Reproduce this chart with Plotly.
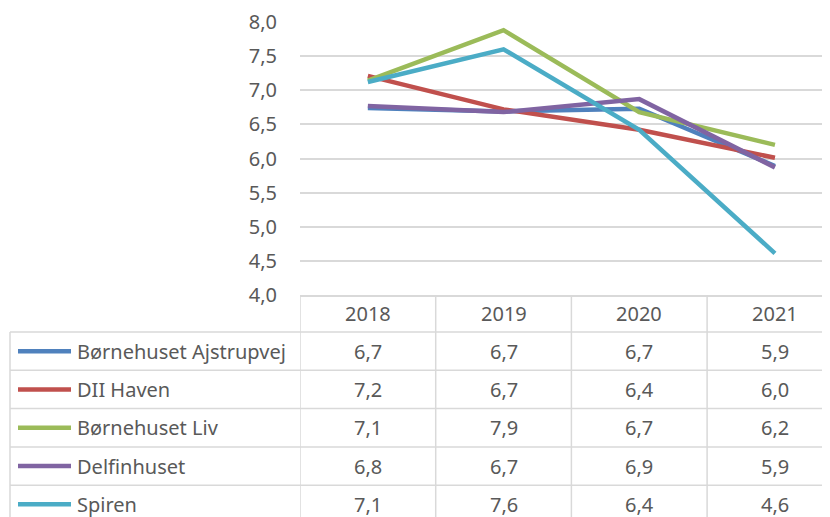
import plotly.graph_objects as go

# ---- data ----
years = ["2018", "2019", "2020", "2021"]
series_names = ["Børnehuset Ajstrupvej", "DII Haven", "Børnehuset Liv", "Delfinhuset", "Spiren"]
ajstrupvej = [6.74, 6.69, 6.73, 5.89]
dii_haven = [7.21, 6.72, 6.42, 6.01]
liv = [7.14, 7.88, 6.68, 6.20]
delfinhuset = [6.77, 6.68, 6.87, 5.87]
spiren = [7.12, 7.60, 6.42, 4.61]
y_ticks = [4.0, 4.5, 5.0, 5.5, 6.0, 6.5, 7.0, 7.5, 8.0]

series_values = [ajstrupvej, dii_haven, liv, delfinhuset, spiren]
colors = ["#4F81BD", "#C0504D", "#9BBB59", "#8064A2", "#4BACC6"]

W, H = 830, 517
OFF = 8  # page body margin offset
FONT = "Noto Sans"
TXT = "#595959"
GRID = "#D9D9D9"
FS = 20


def px(x):
    return (x - OFF) / W


def py(y):
    return 1 - (y - OFF) / H


plot_left, plot_top, plot_bottom = 300, 22, 295
col_w = 135.7
x_max = -0.5 + (W + OFF - plot_left) / col_w

fig = go.Figure()
idx = list(range(len(years)))
for name, vals, c in zip(series_names, series_values, colors):
    fig.add_trace(go.Scatter(x=idx, y=vals, mode="lines", name=name,
                             line=dict(color=c, width=4.5), showlegend=False,
                             hoverinfo="skip"))

shapes = []
annotations = []

header_top = plot_bottom
row_tops = [332, 370.3, 408.6, 446.9, 485.2]
row_h = 38.3
table_bottom = H + 20

for rt in row_tops:
    shapes.append(dict(type="line", xref="paper", yref="paper", x0=px(10), x1=1,
                       y0=py(rt), y1=py(rt), line=dict(color=GRID, width=1.5)))
shapes.append(dict(type="line", xref="paper", yref="paper", x0=px(10), x1=px(10),
                   y0=py(row_tops[0]), y1=py(table_bottom), line=dict(color=GRID, width=1.5)))
for b in [-0.5 + i for i in range(len(years))]:
    shapes.append(dict(type="line", xref="x", yref="paper", x0=b, x1=b,
                       y0=py(header_top), y1=py(table_bottom), line=dict(color=GRID, width=1.5)))

for i, yr in enumerate(years):
    annotations.append(dict(x=i, xref="x", y=py((header_top + row_tops[0]) / 2), yref="paper",
                            text=yr, showarrow=False, xanchor="center", yanchor="middle",
                            font=dict(family=FONT, size=FS, color=TXT)))

for r, (name, vals, c) in enumerate(zip(series_names, series_values, colors)):
    cy = row_tops[r] + row_h / 2
    shapes.append(dict(type="line", xref="paper", yref="paper", x0=px(18), x1=px(71),
                       y0=py(cy), y1=py(cy), line=dict(color=c, width=4.5)))
    annotations.append(dict(x=px(75), xref="paper", y=py(cy), yref="paper", text=name,
                            showarrow=False, xanchor="left", yanchor="middle",
                            font=dict(family=FONT, size=FS, color=TXT)))
    for i, v in enumerate(vals):
        annotations.append(dict(x=i, xref="x", y=py(cy), yref="paper",
                                text=f"{v:.1f}".replace(".", ","), showarrow=False,
                                xanchor="center", yanchor="middle",
                                font=dict(family=FONT, size=FS, color=TXT)))

fig.update_layout(
    width=W, height=H,
    margin=dict(l=0, r=0, t=0, b=0, autoexpand=False),
    paper_bgcolor="white", plot_bgcolor="white",
    xaxis=dict(domain=[px(plot_left), 1], range=[-0.5, x_max], showgrid=False,
               zeroline=False, showticklabels=False, showline=True, automargin=False,
               linecolor=GRID, linewidth=1.5, fixedrange=True),
    yaxis=dict(domain=[py(plot_bottom), py(plot_top)], range=[4, 8],
               tickvals=y_ticks, ticktext=[f"{t:.1f}".replace(".", ",") for t in y_ticks],
               showgrid=True, gridcolor=GRID, gridwidth=1.5, zeroline=False,
               showline=False, ticks="", ticklabelstandoff=22, automargin=False,
               tickfont=dict(family=FONT, size=FS, color=TXT)),
    shapes=shapes, annotations=annotations,
)

fig.write_html("out.html")
